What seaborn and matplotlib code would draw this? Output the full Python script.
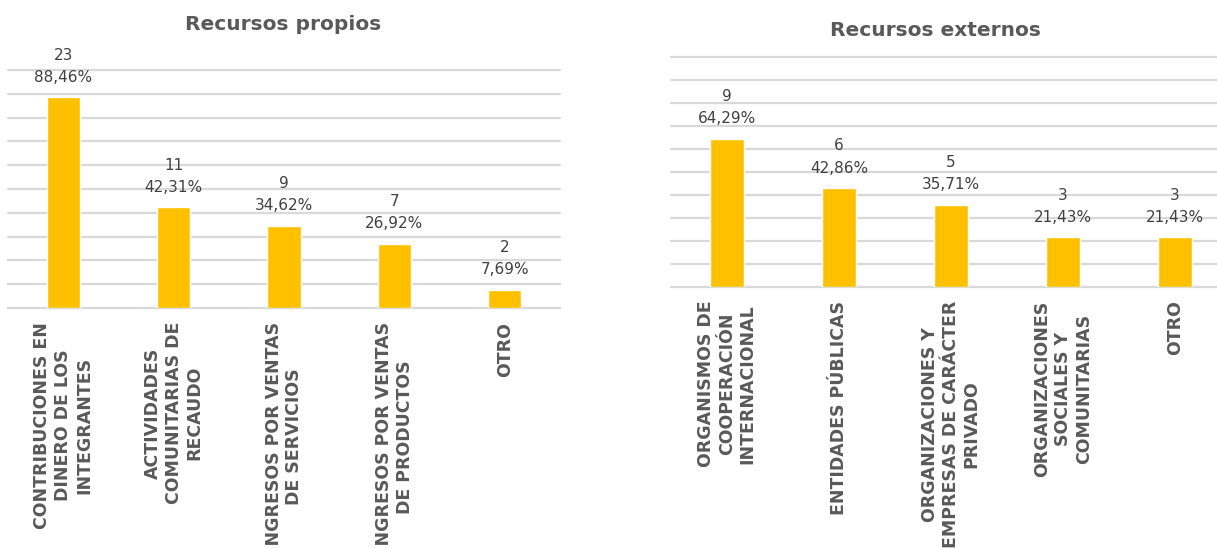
import matplotlib
matplotlib.use("Agg")
import matplotlib.pyplot as plt
import seaborn as sns

propios_cats = [
    "CONTRIBUCIONES EN\nDINERO DE LOS\nINTEGRANTES",
    "ACTIVIDADES\nCOMUNITARIAS DE\nRECAUDO",
    "INGRESOS POR VENTAS\nDE SERVICIOS",
    "INGRESOS POR VENTAS\nDE PRODUCTOS",
    "OTRO",
]
propios_counts = [23, 11, 9, 7, 2]
propios_pct = [88.46, 42.31, 34.62, 26.92, 7.69]

externos_cats = [
    "ORGANISMOS DE\nCOOPERACIÓN\nINTERNACIONAL",
    "ENTIDADES PÚBLICAS",
    "ORGANIZACIONES Y\nEMPRESAS DE CARÁCTER\nPRIVADO",
    "ORGANIZACIONES\nSOCIALES Y\nCOMUNITARIAS",
    "OTRO",
]
externos_counts = [9, 6, 5, 3, 3]
externos_pct = [64.29, 42.86, 35.71, 21.43, 21.43]

BAR = "#FFC000"
GRID = "#d9d9d9"
LABEL = "#595959"
VALUE = "#404040"

sns.set_style("white")
plt.rcParams["font.family"] = ["DejaVu Sans"]

fig = plt.figure(figsize=(12.17, 5.48), dpi=100)
ax1 = fig.add_axes([8 / 1217, 1 - 308 / 548, 552 / 1217, 238 / 548])
ax2 = fig.add_axes([671 / 1217, 1 - 286.7 / 548, 560 / 1217, 230 / 548])


def draw_panel(ax, cats, counts, pct):
    sns.barplot(x=cats, y=pct, color=BAR, width=0.3, saturation=1, ax=ax)
    ax.set_xlim(-0.5, len(cats) - 0.5)
    ax.set_ylim(0, 100)
    ax.set_yticks(range(0, 101, 10))
    ax.yaxis.grid(True, color=GRID, linewidth=1.6)
    ax.set_axisbelow(True)
    for line in ax.get_ygridlines():
        line.set_clip_on(False)
    ax.tick_params(axis="y", left=False, labelleft=False)
    ax.tick_params(axis="x", length=0, pad=10)
    ax.set_xticks(range(len(cats)))
    ax.set_xticklabels(cats, rotation=90, ha="center", va="top",
                       fontsize=12.5, fontweight="bold", color=LABEL,
                       linespacing=1.2)
    ax.set_xlabel("")
    ax.set_ylabel("")
    sns.despine(ax=ax, left=True, bottom=True)
    for i, (c, p) in enumerate(zip(counts, pct)):
        txt = f"{c}\n{p:.2f}%".replace(".", ",")
        ax.annotate(txt, xy=(i, p), xytext=(0, 9), textcoords="offset points",
                    ha="center", va="bottom", fontsize=11, color=VALUE,
                    linespacing=1.6)


draw_panel(ax1, propios_cats, propios_counts, propios_pct)
draw_panel(ax2, externos_cats, externos_counts, externos_pct)

fig.text(283 / 1217, 1 - 25 / 548, "Recursos propios", ha="center", va="center",
         fontsize=14.5, fontweight="bold", color=LABEL)
fig.text(935 / 1217, 1 - 31 / 548, "Recursos externos", ha="center", va="center",
         fontsize=14.5, fontweight="bold", color=LABEL)

fig.savefig("out.png", dpi=100)
